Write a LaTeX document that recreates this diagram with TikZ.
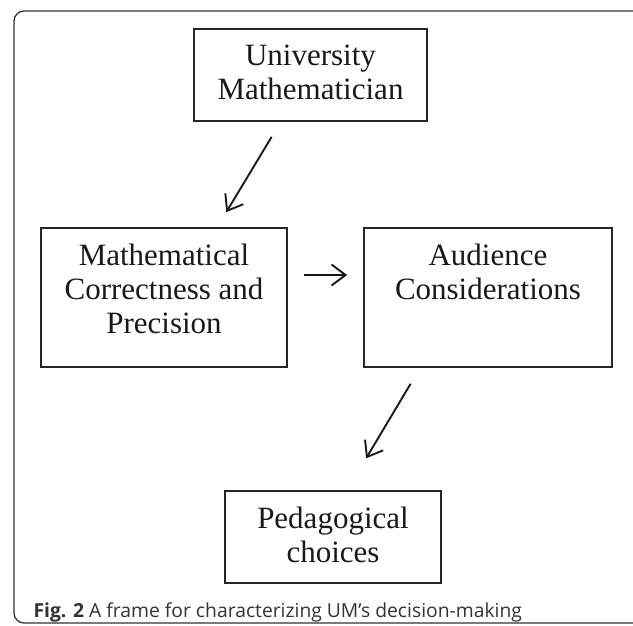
\documentclass[tikz,border=0pt]{standalone}
\usepackage{fontspec}
\setmainfont{Liberation Serif}
\newfontfamily\capfont{Open Sans}
\usetikzlibrary{arrows.meta,calc,positioning}
\tikzset {
  >={Straight Barb[length=14pt,width=21pt]},
  every node/.style={font=\fontsize{31}{34}\selectfont},
}

\begin{document}
\begin{tikzpicture}[x=1pt,y=-1pt,
    box/.style={draw=black!85,line width=1.7pt,inner sep=0pt},
    boxtext/.style={anchor=north,align=center,inner sep=0pt,yshift=-17pt,text=black!90},
    link/.style={->,line width=1.9pt,black!90}]
  \useasboundingbox (0,0) rectangle (633,626);
  \clip (0,0) rectangle (633,626);
  \draw[black!80,line width=1.3pt,rounded corners=10pt] (14,11) rectangle (645,623);
  % boxes
  \node[box,minimum width=233pt,minimum height=92pt] (um) at (310.5,75) {};
  \node[box,minimum width=246pt,minimum height=139pt] (mcp) at (164,297.5) {};
  \node[box,minimum width=248pt,minimum height=139pt] (aud) at (488,297.5) {};
  \node[box,minimum width=216pt,minimum height=92pt] (ped) at (333,537) {};
  \node[boxtext] (umtext) at (um.north) {University\\Mathematician};
  \node[boxtext] (mcptext) at (mcp.north) {Mathematical\\Correctness and\\Precision};
  \node[boxtext] (audtext) at (aud.north) {Audience\\Considerations};
  \node[boxtext] (pedtext) at (ped.north) {Pedagogical\\choices};
  % arrows
  \draw[link,shorten <=17.5pt,shorten >=17.5pt]
    ($(um.south west)!0.373!(um.south east)$) -- ($(mcp.north west)!0.715!(mcp.north east)$);
  \draw[link,shorten <=16pt,shorten >=16pt] ([yshift=22.5pt]mcp.east) -- ([yshift=22.5pt]aud.west);
  \draw[link,shorten <=18.6pt,shorten >=37pt]
    ($(aud.south west)!0.228!(aud.south east)$) -- ($(ped.north west)!0.565!(ped.north east)$);
  % caption
  \node[anchor=base west,font=\capfont\fontsize{19.3}{21}\selectfont,text=black!80] (cap) at (30,617)
    {\textbf{Fig. 2} A frame for characterizing UM’s decision-making};
\end{tikzpicture}
\end{document}
